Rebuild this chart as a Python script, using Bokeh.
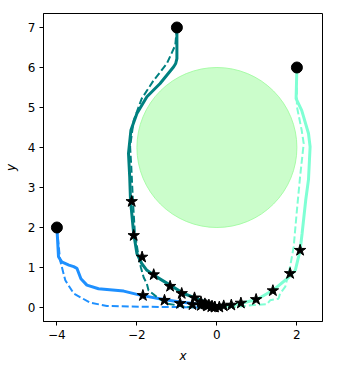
from bokeh.plotting import figure
from bokeh.models import Range1d, FixedTicker, CustomJSTickFormatter
from bokeh.embed import file_html
from bokeh.resources import INLINE

# obstacle
obs_x = [0.0]
obs_y = [4.0]
obs_r = [2.0]

# trajectory 1 (blue)
blue_sol_x = [-4.0, -3.96, -3.88, -3.70, -3.58, -3.50, -3.45, -3.40, -3.25, -2.96, -2.33, -1.92, -1.33, -0.92, -0.42, -0.15, 0.0]
blue_sol_y = [2.0, 1.27, 1.14, 1.06, 1.02, 0.98, 0.85, 0.72, 0.56, 0.47, 0.41, 0.31, 0.20, 0.14, 0.08, 0.03, 0.0]
blue_das_x = [-4.0, -3.92, -3.79, -3.58, -3.17, -2.75, -1.92, -1.0, -0.4, 0.0]
blue_das_y = [2.0, 1.18, 0.68, 0.35, 0.12, 0.04, 0.02, 0.01, 0.0, 0.0]
blue_star_x = [-1.85, -1.31, -0.92, -0.61, -0.40, -0.25, -0.14, -0.06]
blue_star_y = [0.30, 0.18, 0.10, 0.07, 0.05, 0.04, 0.02, 0.01]

# trajectory 2 (teal)
teal_sol_x = [-1.0, -1.0, -1.03, -1.08, -1.42, -1.75, -2.0, -2.15, -2.21, -2.18, -2.16, -2.08, -2.0, -1.88, -1.75, -1.58, -1.17, -0.83, -0.5, -0.25, 0.0]
teal_sol_y = [7.0, 6.22, 6.1, 6.02, 5.6, 5.27, 4.85, 4.43, 3.85, 3.27, 2.68, 1.85, 1.35, 1.10, 0.93, 0.81, 0.56, 0.35, 0.22, 0.12, 0.0]
teal_das_x = [-1.0, -1.04, -1.25, -1.58, -1.88, -2.08, -2.17, -2.14, -2.10, -2.05, -1.97, -1.90, -1.83, -1.75, -1.71, -1.5, -1.25, -0.75, 0.0]
teal_das_y = [7.0, 6.56, 6.1, 5.68, 5.22, 4.68, 4.02, 3.52, 2.68, 1.85, 1.35, 1.0, 0.75, 0.59, 0.43, 0.26, 0.10, 0.01, 0.0]
teal_star_x = [-2.13, -2.08, -1.87, -1.58, -1.17, -0.88, -0.56, -0.40, -0.30, -0.20, -0.12, -0.05]
teal_star_y = [2.65, 1.80, 1.26, 0.82, 0.53, 0.35, 0.24, 0.14, 0.09, 0.06, 0.03, 0.01]

# trajectory 3 (aquamarine)
aqua_sol_x = [2.0, 1.98, 2.12, 2.29, 2.33, 2.29, 2.22, 2.13, 2.08, 1.96, 1.79, 1.4, 1.0, 0.58, 0.25, 0.0]
aqua_sol_y = [6.0, 5.22, 4.93, 4.35, 4.02, 3.2, 2.68, 1.85, 1.43, 0.93, 0.75, 0.43, 0.20, 0.10, 0.03, 0.0]
aqua_das_x = [2.0, 2.0, 2.12, 2.17, 2.08, 2.0, 1.92, 1.83, 1.71, 1.58, 1.54, 1.33, 1.25, 0.92, 0.42, 0.0]
aqua_das_y = [6.0, 5.02, 4.43, 4.1, 3.27, 2.43, 1.52, 1.02, 0.52, 0.35, 0.22, 0.18, 0.08, 0.06, 0.01, 0.0]
aqua_star_x = [2.08, 1.83, 1.40, 0.98, 0.60, 0.36, 0.17, 0.06]
aqua_star_y = [1.43, 0.85, 0.42, 0.20, 0.11, 0.06, 0.04, 0.01]

start_x = [-4.0, -1.0, 2.0]
start_y = [2.0, 7.0, 6.0]

x_ticks = [-4, -2, 0, 2]
y_ticks = [0, 1, 2, 3, 4, 5, 6, 7]

p = figure(output_backend="svg", toolbar_location=None,
           frame_width=279, frame_height=308,
           x_range=Range1d(-4.335, 2.64), y_range=Range1d(-0.35, 7.35),
           min_border_left=43, min_border_right=7, min_border_top=13, min_border_bottom=42)
p.background_fill_color = "white"
p.border_fill_color = "white"
p.grid.visible = False
p.outline_line_color = "black"
p.outline_line_width = 1

fmt = CustomJSTickFormatter(code="return tick.toString().replace('-', '\u2212');")
for ax, ticks, lab in ((p.xaxis[0], x_ticks, "x"), (p.yaxis[0], y_ticks, "y")):
    ax.ticker = FixedTicker(ticks=ticks)
    ax.formatter = fmt
    ax.axis_label = lab
    ax.axis_label_text_font = "DejaVu Sans"
    ax.axis_label_text_font_style = "italic"
    ax.axis_label_text_font_size = "12px"
    ax.axis_label_text_color = "black"
    ax.major_label_text_font = "DejaVu Sans"
    ax.major_label_text_font_size = "12px"
    ax.major_label_text_color = "black"
    ax.major_tick_in = 0
    ax.major_tick_out = 4
    ax.minor_tick_line_color = None
    ax.axis_line_color = "black"
    ax.major_tick_line_color = "black"
    ax.major_label_standoff = 4
    ax.axis_label_standoff = 7

p.circle(x=obs_x, y=obs_y, radius=obs_r, fill_color="#98FB98", fill_alpha=0.5,
         line_color="#98FB98", line_alpha=0.8, line_width=1)

for sx, sy, dx, dy, col in ((blue_sol_x, blue_sol_y, blue_das_x, blue_das_y, "#1E90FF"),
                            (teal_sol_x, teal_sol_y, teal_das_x, teal_das_y, "#008080"),
                            (aqua_sol_x, aqua_sol_y, aqua_das_x, aqua_das_y, "#7FFFD4")):
    p.line(dx, dy, line_color=col, line_width=2, line_dash="7 3")
    p.line(sx, sy, line_color=col, line_width=3)

for sx, sy in ((blue_star_x, blue_star_y), (teal_star_x, teal_star_y), (aqua_star_x, aqua_star_y)):
    p.scatter(sx, sy, marker="star", size=12, fill_color="black", line_color="black")

p.scatter(start_x, start_y, marker="circle", size=11, fill_color="black", line_color="black")

open("out.html", "w").write(file_html(p, INLINE))
